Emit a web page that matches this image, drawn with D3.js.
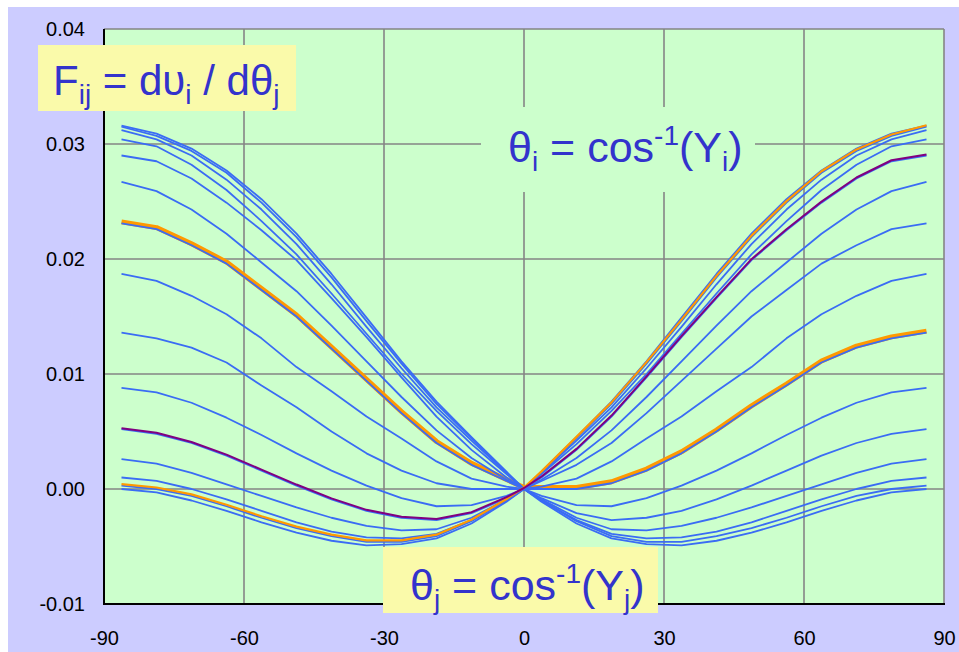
<!DOCTYPE html>
<html>
<head>
<meta charset="utf-8">
<script src="https://cdn.jsdelivr.net/npm/d3@7"></script>
<style>
  body { margin: 0; background: #fff; }
  text { font-family: "Liberation Sans", Arial, sans-serif; white-space: pre; }
</style>
</head>
<body>
<div id="chart"></div>
<script>
// axis ticks
const xTicks = [-90, -60, -30, 0, 30, 60, 90];
const yTicks = [-0.01, 0, 0.01, 0.02, 0.03, 0.04];

// theta_j sample points (deg)
const thetaJ = [-86.25, -78.75, -71.25, -63.75, -56.25, -48.75, -41.25, -33.75, -26.25, -18.75, -11.25, -3.75,
  0, 3.75, 11.25, 18.75, 26.25, 33.75, 41.25, 48.75, 56.25, 63.75, 71.25, 78.75, 86.25];

// half-curve profiles, value at |theta_j| = 3.75 ... 86.25
const profiles = [
  [0.0015, 0.0045, 0.0076, 0.0111, 0.0149, 0.0187, 0.0222, 0.0252, 0.0277, 0.0296, 0.0309, 0.0316],
  [0.0014, 0.0044, 0.0074, 0.0109, 0.0146, 0.0184, 0.0219, 0.0249, 0.0275, 0.0294, 0.0307, 0.0315],
  [0.0014, 0.0042, 0.0071, 0.0105, 0.0141, 0.0178, 0.0213, 0.0243, 0.0269, 0.0290, 0.0304, 0.0312],
  [0.0013, 0.0039, 0.0068, 0.0100, 0.0135, 0.0170, 0.0204, 0.0233, 0.0260, 0.0282, 0.0298, 0.0304],
  [0.0010, 0.0034, 0.0063, 0.0097, 0.0132, 0.0166, 0.0199, 0.0225, 0.0249, 0.0270, 0.0285, 0.0290],
  [0.0008, 0.0027, 0.0051, 0.0080, 0.0111, 0.0142, 0.0172, 0.0197, 0.0222, 0.0243, 0.0259, 0.0267],
  [0.0007, 0.0021, 0.0040, 0.0066, 0.0094, 0.0122, 0.0150, 0.0173, 0.0196, 0.0212, 0.0226, 0.0231],
  [0.0002, 0.0009, 0.0024, 0.0044, 0.0063, 0.0085, 0.0106, 0.0131, 0.0152, 0.0168, 0.0181, 0.0187],
  [0.0000, 0.0000, 0.0005, 0.0016, 0.0031, 0.0050, 0.0071, 0.0090, 0.0110, 0.0123, 0.0131, 0.0136],
  [-0.0006, -0.0014, -0.0015, -0.0008, 0.0003, 0.0016, 0.0031, 0.0047, 0.0062, 0.0075, 0.0084, 0.0088],
  [-0.0008, -0.0021, -0.0027, -0.0025, -0.0019, -0.0009, 0.0003, 0.0016, 0.0029, 0.0040, 0.0048, 0.0052],
  [-0.0009, -0.0025, -0.0035, -0.0036, -0.0032, -0.0025, -0.0016, -0.0006, 0.0004, 0.0014, 0.0022, 0.0026],
  [-0.0010, -0.0027, -0.0039, -0.0043, -0.0042, -0.0037, -0.0029, -0.0019, -0.0009, 0.0000, 0.0007, 0.0010],
  [-0.0010, -0.0028, -0.0041, -0.0046, -0.0046, -0.0041, -0.0034, -0.0025, -0.0015, -0.0006, 0.0000, 0.0003],
  [-0.0011, -0.0030, -0.0043, -0.0048, -0.0049, -0.0045, -0.0038, -0.0029, -0.0019, -0.0010, -0.0003, 0.0000]
];

// each curve: [left profile, right profile]
const curvePairs = [[0, 14], [1, 13], [2, 12], [3, 11], [4, 10], [5, 9], [6, 8], [7, 7],
  [8, 6], [9, 5], [10, 4], [11, 3], [12, 2], [13, 1], [14, 0]];

const orangeThick = 6;
const purpleCurve = 10;
const orangeThin = 13;

const curves = curvePairs.map(([a, b]) => {
  const vals = profiles[a].slice().reverse().concat([0], profiles[b]);
  return thetaJ.map((t, i) => ({ x: t, y: vals[i] }));
});

const width = 959, height = 652;
const plot = { left: 104, top: 29, right: 944, bottom: 604 };

const x = d3.scaleLinear().domain([-90, 90]).range([plot.left, plot.right]);
const y = d3.scaleLinear().domain([-0.01, 0.04]).range([plot.bottom, plot.top]);

const svg = d3.select("#chart").append("svg")
  .attr("width", width)
  .attr("height", height);

svg.append("rect")
  .attr("x", 8).attr("y", 7)
  .attr("width", width - 8).attr("height", height - 7)
  .attr("fill", "#ccccff");

svg.append("rect")
  .attr("x", plot.left).attr("y", plot.top)
  .attr("width", plot.right - plot.left).attr("height", plot.bottom - plot.top)
  .attr("fill", "#ccffcc");

// grid
const grid = svg.append("g").attr("stroke", "#858585").attr("stroke-width", 1.6);
grid.selectAll(".vg").data(xTicks).enter().append("line")
  .attr("x1", d => x(d)).attr("x2", d => x(d))
  .attr("y1", plot.top).attr("y2", plot.bottom);
grid.selectAll(".hg").data(yTicks).enter().append("line")
  .attr("x1", plot.left).attr("x2", plot.right)
  .attr("y1", d => y(d)).attr("y2", d => y(d));

// box behind theta_i label hides grid
svg.append("rect")
  .attr("x", 481).attr("y", 107).attr("width", 274).attr("height", 85)
  .attr("fill", "#ccffcc");

// plot border
svg.append("line").attr("x1", plot.left).attr("x2", plot.left)
  .attr("y1", plot.top).attr("y2", plot.bottom + 1)
  .attr("stroke", "#000").attr("stroke-width", 2);
svg.append("line").attr("x1", plot.left).attr("x2", plot.right + 1)
  .attr("y1", plot.bottom).attr("y2", plot.bottom)
  .attr("stroke", "#000").attr("stroke-width", 2);

const line = d3.line().x(d => x(d.x)).y(d => y(d.y));

svg.append("path")
  .datum(curves[orangeThick])
  .attr("d", line)
  .attr("transform", "translate(0,-1.5)")
  .attr("fill", "none").attr("stroke", "#ff9900").attr("stroke-width", 5)
  .attr("stroke-linejoin", "round");

svg.append("g").selectAll("path").data(curves).enter().append("path")
  .attr("d", line)
  .attr("fill", "none")
  .attr("stroke", "#3a6cf4")
  .attr("stroke-width", 1.8)
  .attr("stroke-linejoin", "round");

svg.append("path")
  .datum(curves[orangeThin])
  .attr("d", line)
  .attr("transform", "translate(0,-1.5)")
  .attr("fill", "none").attr("stroke", "#ff9900").attr("stroke-width", 2.2)
  .attr("stroke-linejoin", "round");

svg.append("path")
  .datum(curves[purpleCurve])
  .attr("d", line)
  .attr("transform", "translate(0,-1)")
  .attr("fill", "none").attr("stroke", "#800080").attr("stroke-width", 2)
  .attr("stroke-linejoin", "round");

// axes labels (plain hyphen for minus, as in the original)
const fmtX = d => d3.format("d")(d).replace("\u2212", "-");
const fmtY = d => d3.format(".2f")(d).replace("\u2212", "-");

const xAxis = d3.axisBottom(x).tickValues(xTicks).tickSize(0).tickPadding(27).tickFormat(fmtX);
svg.append("g")
  .attr("transform", `translate(0, ${plot.bottom})`)
  .call(xAxis)
  .call(g => g.select(".domain").remove())
  .call(g => g.selectAll("text").attr("font-size", 20).attr("fill", "#000")
    .attr("font-family", '"Liberation Sans", Arial, sans-serif'));

const yAxis = d3.axisLeft(y).tickValues(yTicks).tickSize(0).tickPadding(19).tickFormat(fmtY);
svg.append("g")
  .attr("transform", `translate(${plot.left}, 0)`)
  .call(yAxis)
  .call(g => g.select(".domain").remove())
  .call(g => g.selectAll("text").attr("font-size", 20).attr("fill", "#000")
    .attr("font-family", '"Liberation Sans", Arial, sans-serif'));

// title box
svg.append("rect")
  .attr("x", 38).attr("y", 45).attr("width", 258).attr("height", 66)
  .attr("fill", "#fafaaa");
const title = svg.append("text").attr("x", 53).attr("y", 95)
  .attr("font-size", 42).attr("fill", "#3333cc");
title.append("tspan").text("F");
title.append("tspan").attr("font-size", 28).attr("dy", 9).text("ij");
title.append("tspan").attr("dy", -9).text(" = d\u03c5");
title.append("tspan").attr("font-size", 28).attr("dy", 9).text("i");
title.append("tspan").attr("dy", -9).text(" / d\u03b8");
title.append("tspan").attr("font-size", 28).attr("dy", 9).text("j");

// theta_i label
const ti = svg.append("text").attr("x", 508).attr("y", 162)
  .attr("font-size", 43).attr("fill", "#3333cc");
ti.append("tspan").text("\u03b8");
ti.append("tspan").attr("font-size", 28).attr("dy", 9).text("i");
ti.append("tspan").attr("dy", -9).text(" = cos");
ti.append("tspan").attr("font-size", 28).attr("dy", -17).text("-1");
ti.append("tspan").attr("dy", 17).text("(Y");
ti.append("tspan").attr("font-size", 28).attr("dy", 9).text("i");
ti.append("tspan").attr("dy", -9).text(")");

// theta_j label box
svg.append("rect")
  .attr("x", 383).attr("y", 547).attr("width", 275).attr("height", 66)
  .attr("fill", "#fafaaa");
const tj = svg.append("text").attr("x", 410).attr("y", 600)
  .attr("font-size", 43).attr("fill", "#3333cc");
tj.append("tspan").text("\u03b8");
tj.append("tspan").attr("font-size", 28).attr("dy", 9).text("j");
tj.append("tspan").attr("dy", -9).text(" = cos");
tj.append("tspan").attr("font-size", 28).attr("dy", -17).text("-1");
tj.append("tspan").attr("dy", 17).text("(Y");
tj.append("tspan").attr("font-size", 28).attr("dy", 9).text("j");
tj.append("tspan").attr("dy", -9).text(")");
</script>
</body>
</html>
